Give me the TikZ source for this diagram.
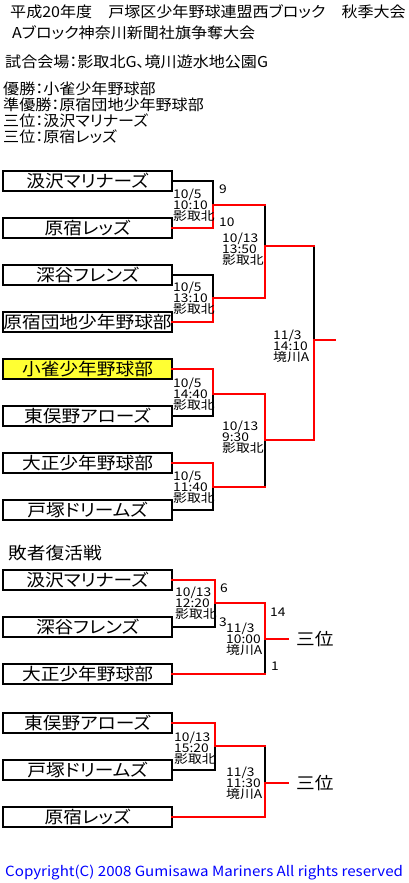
\documentclass[tikz,border=0pt]{standalone}
\usepackage{fontspec}
\setmainfont{Noto Sans CJK JP}
\newfontfamily\headfont{Noto Sans CJK JP}[CharacterWidth=AlternateProportional, FakeStretch=1.07]
\newfontfamily\teamfont{Noto Sans CJK JP}[CharacterWidth=AlternateProportional, FakeStretch=1.1]
\newfontfamily\datefont{Noto Sans CJK JP}[FakeStretch=1.15]
\newfontfamily\footfont{Noto Sans CJK JP}[FakeStretch=1.08]
\usepackage{xcolor}
\usepackage{tikz}
\usetikzlibrary{positioning}

\definecolor{champyellow}{RGB}{255,255,51}
\definecolor{copyblue}{RGB}{0,0,255}

\begin{document}
\begin{tikzpicture}[
    x=1pt, y=-1pt,
    node distance=27pt,
    team/.style={rectangle, draw, line width=2pt, fill=white, minimum width=169pt, minimum height=20pt, inner sep=0pt, outer sep=0pt, font=\teamfont\fontsize{17}{17}\selectfont},
    head/.style={anchor=west, inner sep=0pt, font=\headfont\fontsize{15}{16}\selectfont},
    info/.style={anchor=west, inner sep=0pt, align=left, font=\datefont\fontsize{12}{11}\selectfont},
    score/.style={anchor=west, inner sep=0pt, font=\datefont\fontsize{12}{11}\selectfont},
    rank/.style={inner sep=0pt, font=\teamfont\fontsize{17}{17}\selectfont},
    win/.style={draw=red, line width=2pt, line cap=rect},
    lose/.style={draw=black, line width=2pt, line cap=rect}
]
\useasboundingbox (0,0) rectangle (408,883);

% Header
\node[head] (title) at (10,12) {平成20年度　戸塚区少年野球連盟西ブロック　秋季大会};
\node[head] (cup) at (12,33) {Aブロック神奈川新聞社旗争奪大会};
\node[head] (venue) at (5,62) {試合会場：影取北G、境川遊水地公園G};
\node[head, align=left, anchor=north west] (results) at (3,82) {優勝：小雀少年野球部\\準優勝：原宿団地少年野球部\\三位：汲沢マリナーズ\\三位：原宿レッズ};

% Main bracket teams
\node[team] (sawa1) at (87.5,181) {汲沢マリナーズ};
\node[team, below=of sawa1] (harared1) {原宿レッズ};
\node[team, below=of harared1] (fukaya1) {深谷フレンズ};
\node[team, below=of fukaya1] (haradan) {原宿団地少年野球部};
\node[team, below=of haradan, fill=champyellow] (kosuzume) {小雀少年野球部};
\node[team, below=of kosuzume] (higashi1) {東俣野アローズ};
\node[team, below=of higashi1] (taisho1) {大正少年野球部};
\node[team, below=of taisho1] (totsuka1) {戸塚ドリームズ};

% Junctions
\coordinate (r1a) at (213,205);
\coordinate (r1b) at (213,298);
\coordinate (r1c) at (213,394);
\coordinate (r1d) at (213,487);
\coordinate (r2a) at (265,246);
\coordinate (r2b) at (265,440);
\coordinate (fin) at (314,340);
\coordinate (champ) at (335,340);

% Main bracket lines
\draw[lose] (sawa1.east) -| (r1a);
\draw[lose] (fukaya1.east) -| (r1b);
\draw[lose] (higashi1.east) -| (r1c);
\draw[lose] (totsuka1.east) -| (r1d);
\draw[lose] (r1a -| r2a) -- (r2a);
\draw[lose] (r1d -| r2b) -- (r2b);
\draw[lose] (r2a -| fin) -- (fin);
\draw[win] (harared1.east) -| (r1a);
\draw[win] (haradan.east) -| (r1b);
\draw[win] (kosuzume.east) -| (r1c);
\draw[win] (taisho1.east) -| (r1d);
\draw[win] (r1a) -- (r1a -| r2a);
\draw[win] (r1b) -| (r2a);
\draw[win] (r1c) -| (r2b);
\draw[win] (r1d) -- (r1d -| r2b);
\draw[win] (r2a) -- (r2a -| fin);
\draw[win] (r2b) -| (fin);
\draw[win] (fin) -- (champ);

% Match info
\node[info, xshift=1pt] at (harared1.east |- r1a) {10/5\\10:10\\影取北};
\node[info, xshift=1pt] at (haradan.east |- r1b) {10/5\\13:10\\影取北};
\node[info, xshift=1pt] at (higashi1.east |- r1c) {10/5\\14:40\\影取北};
\node[info, xshift=1pt] at (totsuka1.east |- r1d) {10/5\\11:40\\影取北};
\node[info, xshift=9pt, yshift=-3pt] at (r1a |- r2a) {10/13\\13:50\\影取北};
\node[info, xshift=9pt, yshift=3pt] at (r1a |- r2b) {10/13\\9:30\\影取北};
\node[info, xshift=8pt, yshift=-6pt] at (r2a |- fin) {11/3\\14:10\\境川A};
\node[score, xshift=6pt, yshift=-8pt] at (sawa1.east -| r1a) {9};
\node[score, xshift=6pt, yshift=6pt] at (harared1.east -| r1a) {10};

% Consolation teams
\node[anchor=west, inner sep=0pt, font=\teamfont\fontsize{17}{17}\selectfont] (losers) at (8,553) {敗者復活戦};
\node[team] (sawa2) at (87.5,580) {汲沢マリナーズ};
\node[team, below=of sawa2] (fukaya2) {深谷フレンズ};
\node[team, below=of fukaya2] (taisho2) {大正少年野球部};
\node[team, below=29pt of taisho2] (higashi2) {東俣野アローズ};
\node[team, below=of higashi2] (totsuka2) {戸塚ドリームズ};
\node[team, below=of totsuka2] (harared2) {原宿レッズ};

\coordinate (c1a) at (215,603);
\coordinate (c1b) at (265,639);
\coordinate (c1end) at (288,639);
\coordinate (c2a) at (215,746);
\coordinate (c2b) at (265,783);
\coordinate (c2end) at (288,783);

% Consolation lines
\draw[lose] (fukaya2.east) -| (c1a);
\draw[lose] (taisho2.east -| c1b) -- (c1b);
\draw[lose] (totsuka2.east) -| (c2a);
\draw[lose] (c2a -| c2b) -- (c2b);
\draw[win] (sawa2.east) -| (c1a);
\draw[win] (c1a) -| (c1b);
\draw[win] (taisho2.east) -- (taisho2.east -| c1b);
\draw[win] (c1b) -- (c1end);
\draw[win] (higashi2.east) -| (c2a);
\draw[win] (c2a) -- (c2a -| c2b);
\draw[win] (harared2.east) -| (c2b);
\draw[win] (c2b) -- (c2end);

\node[rank, right=8pt of c1end] (third1) {三位};
\node[rank, right=8pt of c2end] (third2) {三位};

% Consolation info
\node[info, xshift=3pt] at (fukaya2.east |- c1a) {10/13\\12:20\\影取北};
\node[info, xshift=11pt] at (c1a |- c1b) {11/3\\10:00\\境川A};
\node[info, xshift=2pt, yshift=-2pt] at (totsuka2.east |- c2a) {10/13\\15:20\\影取北};
\node[info, xshift=11pt] at (c2a |- c2b) {11/3\\11:30\\境川A};
\node[score, xshift=5pt, yshift=-8pt] at (sawa2.east -| c1a) {6};
\node[score, xshift=4pt, yshift=5pt] at (fukaya2.east -| c1a) {3};
\node[score, xshift=5pt, yshift=-9pt] at (c1a -| c1b) {14};
\node[score, xshift=6pt, yshift=8pt] at (taisho2.east -| c1b) {1};

% Footer
\node[anchor=west, inner sep=0pt, text=copyblue, font=\footfont\fontsize{14}{14}\selectfont] (copyright) at (5,873) {Copyright(C) 2008 Gumisawa Mariners All rights reserved};

\end{tikzpicture}
\end{document}
